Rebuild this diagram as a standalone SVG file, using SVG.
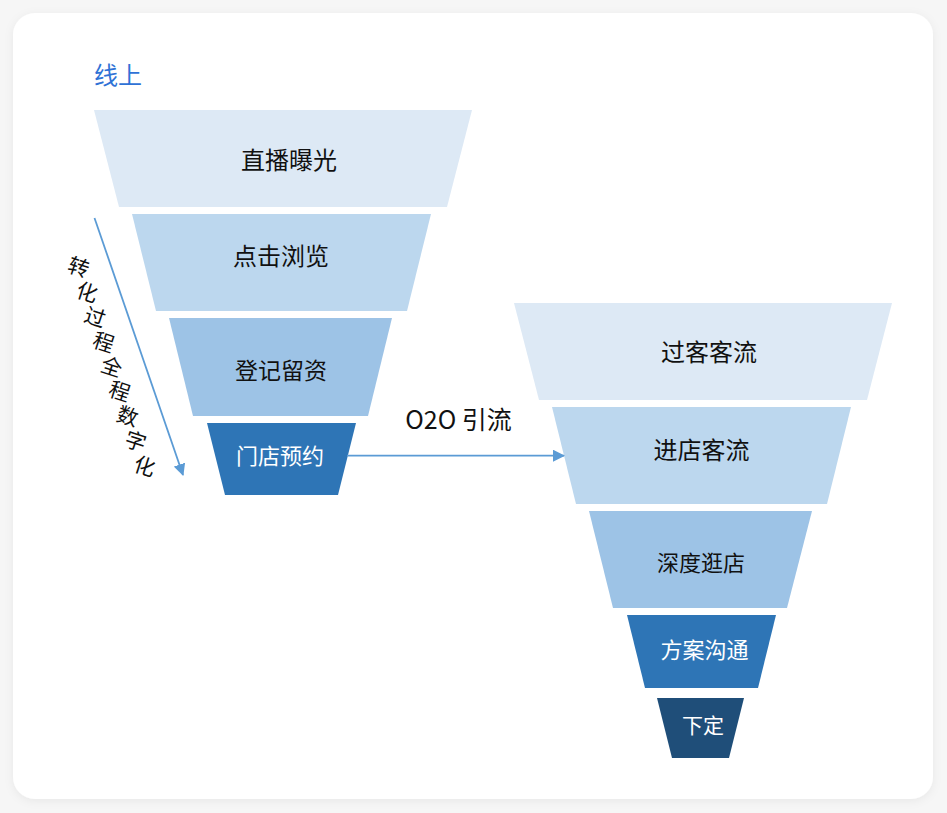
<svg xmlns="http://www.w3.org/2000/svg" width="947" height="813" viewBox="0 0 947 813">
  <defs>
    <filter id="shadow" x="-5%" y="-5%" width="110%" height="110%">
      <feDropShadow dx="0" dy="2" stdDeviation="5" flood-color="#000" flood-opacity="0.06"/>
    </filter>
    <marker id="arrow" viewBox="0 0 12 12" refX="11" refY="6" markerWidth="12" markerHeight="12" markerUnits="userSpaceOnUse" orient="auto">
      <path d="M0,0 L12,6 L0,12 Z" fill="#5b9bd5"/>
    </marker>
    <style>
      text { font-family: "Noto Sans CJK SC", "Noto Sans", sans-serif; }
      .lbl { text-anchor: middle; dominant-baseline: central; fill: #111111; }
      .lblw { text-anchor: middle; dominant-baseline: central; fill: #ffffff; }
      .t1 { fill: #dde9f5; }
      .t2 { fill: #bcd7ee; }
      .t3 { fill: #9dc3e6; }
      .t4 { fill: #2e75b6; }
      .t5 { fill: #1f4e79; }
      .conn { stroke: #5b9bd5; stroke-width: 1.8; fill: none; }
      .side { font-size: 21px; fill: #111111; text-anchor: middle; dominant-baseline: central; }
    </style>
  </defs>

  <rect x="0" y="0" width="947" height="813" fill="#f6f6f6"/>
  <rect x="13" y="13" width="920" height="786" rx="22" ry="22" fill="#ffffff" filter="url(#shadow)"/>

  <text x="94" y="73" font-size="24" fill="#2f72d6" dominant-baseline="central">线上</text>

  <g id="left-1">
    <polygon class="t1" points="94,110 472,110 447,207 119,207"/>
    <text class="lbl" x="289" y="158" font-size="24">直播曝光</text>
  </g>
  <g id="left-2">
    <polygon class="t2" points="132,214 431,214 407,311 156,311"/>
    <text class="lbl" x="281" y="254.5" font-size="24">点击浏览</text>
  </g>
  <g id="left-3">
    <polygon class="t3" points="169,318 392,318 368,416 193,416"/>
    <text class="lbl" x="281" y="369" font-size="23">登记留资</text>
  </g>
  <g id="left-4">
    <polygon class="t4" points="207,423 356,423 338,495 225,495"/>
    <text class="lblw" x="280" y="454" font-size="22">门店预约</text>
  </g>

  <g id="right-1">
    <polygon class="t1" points="514,303 892,303 867,400 539,400"/>
    <text class="lbl" x="709" y="350.5" font-size="24">过客客流</text>
  </g>
  <g id="right-2">
    <polygon class="t2" points="552,407 851,407 827,504 576,504"/>
    <text class="lbl" x="701.5" y="448" font-size="24">进店客流</text>
  </g>
  <g id="right-3">
    <polygon class="t3" points="589,511 812,511 787,608 613,608"/>
    <text class="lbl" x="701" y="560.5" font-size="22">深度逛店</text>
  </g>
  <g id="right-4">
    <polygon class="t4" points="627,615 776,615 758,688 645,688"/>
    <text class="lblw" x="704.5" y="647.5" font-size="22">方案沟通</text>
  </g>
  <g id="right-5">
    <polygon class="t5" points="657,698 744,698 729,758 672,758"/>
    <text class="lblw" x="703" y="723.5" font-size="21">下定</text>
  </g>

  <g id="connectors">
    <line class="conn" x1="94.5" y1="218" x2="183" y2="475" marker-end="url(#arrow)"/>
    <line class="conn" x1="347" y1="455.7" x2="564" y2="455.7" marker-end="url(#arrow)"/>
  </g>

  <text x="458.5" y="418" font-size="25" fill="#111111" text-anchor="middle" dominant-baseline="central">O2O 引流</text>

  <g id="side-label">
    <text class="side" transform="translate(79,266) rotate(18)">转</text>
    <text class="side" transform="translate(87.5,291) rotate(18)">化</text>
    <text class="side" transform="translate(95.5,316) rotate(18)">过</text>
    <text class="side" transform="translate(104,341) rotate(18)">程</text>
    <text class="side" transform="translate(112,365.5) rotate(18)">全</text>
    <text class="side" transform="translate(120,390) rotate(18)">程</text>
    <text class="side" transform="translate(128,415) rotate(18)">数</text>
    <text class="side" transform="translate(136,440) rotate(18)">字</text>
    <text class="side" transform="translate(145,465) rotate(18)">化</text>
  </g>
</svg>
